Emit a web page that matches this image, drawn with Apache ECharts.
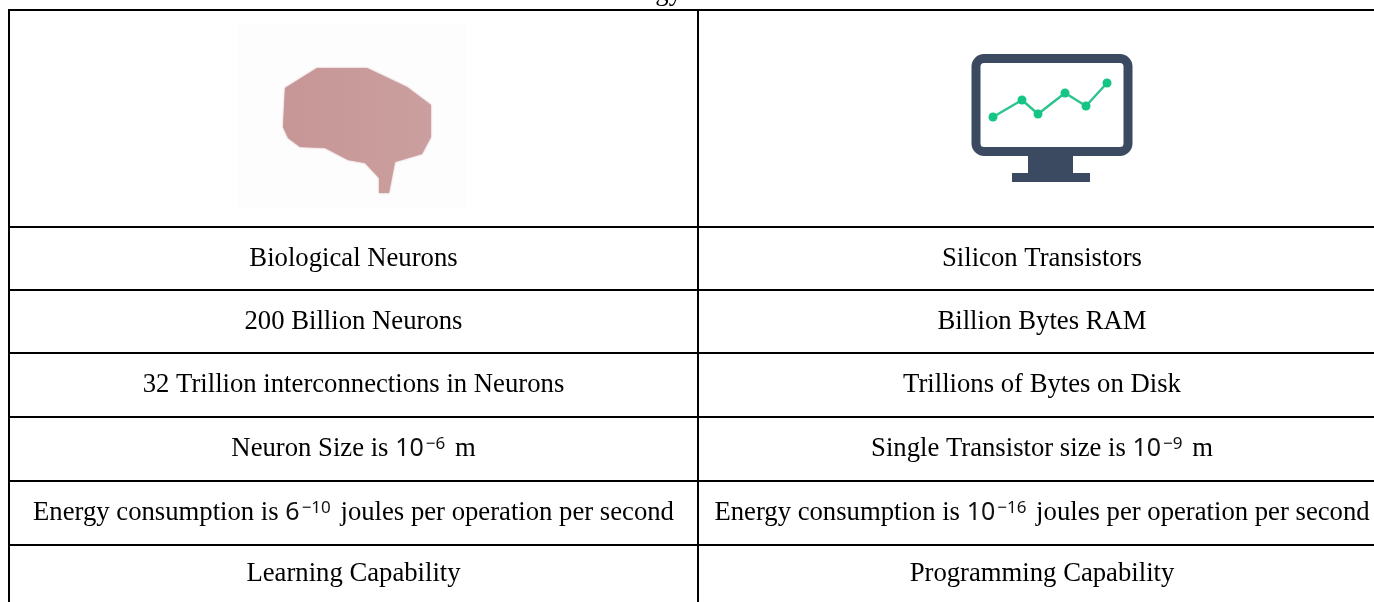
<!DOCTYPE html>
<html>
<head>
<meta charset="utf-8">
<style>
  html, body { margin: 0; padding: 0; background: #fff; }
  #main { width: 1374px; height: 602px; }
</style>
<script src="https://cdn.jsdelivr.net/npm/echarts@6/dist/echarts.min.js"></script>
</head>
<body>
<div id="main"></div>
<script>
// table content
const leftColumn = [
  "Biological Neurons",
  "200 Billion Neurons",
  "32 Trillion interconnections in Neurons",
  "Neuron Size is {m|10}{s|−6} {t|m}",
  "Energy consumption is {m|6}{s|−10} {t|joules per operation per second}",
  "Learning Capability"
];
const rightColumn = [
  "Silicon Transistors",
  "Billion Bytes RAM",
  "Trillions of Bytes on Disk",
  "Single Transistor size is {m|10}{s|−9} {t|m}",
  "Energy consumption is {m|10}{s|−16} {t|joules per operation per second}",
  "Programming Capability"
];
const captionTail = "Technology";

// little trend line on the monitor icon
const trendX = [0, 29, 45, 72, 93, 114];
const trendY = [0, 17, 3, 24, 11, 34];

// table layout, page pixels (the right column runs past the page edge)
const rowEdges = [10, 227, 290, 353, 417, 481, 545, 602];
const colEdges = [9, 698, 1386];
const W = 1374, H = 602;

const serif = '"Liberation Serif", "Times New Roman", serif';
const cells = [];
leftColumn.forEach((t, i) => cells.push([0, i, t]));
rightColumn.forEach((t, i) => cells.push([1, i, t]));

const chart = echarts.init(document.getElementById("main"), null, { renderer: "canvas" });

chart.setOption({
  animation: false,
  backgroundColor: "#fff",
  grid: [
    { left: 0, top: 0, width: W, height: H, show: false },
    { left: 993, top: 83, width: 114, height: 34, show: false }
  ],
  xAxis: [
    { type: "value", gridIndex: 0, min: 0, max: W, show: false },
    { type: "value", gridIndex: 1, min: 0, max: 114, show: false }
  ],
  yAxis: [
    { type: "value", gridIndex: 0, min: 0, max: H, inverse: true, show: false },
    { type: "value", gridIndex: 1, min: 0, max: 34, show: false }
  ],
  graphic: [
    // pale square behind the brain picture
    { type: "rect", z: 0, shape: { x: 237, y: 24, width: 230, height: 184 }, style: { fill: "#fdfdfd" } },
    // brain
    {
      type: "polygon", z: 1,
      shape: { points: [
        [285, 88], [317, 68], [367, 68], [407, 87], [431, 105], [431, 137],
        [422, 154], [395, 162], [389, 193], [379, 193], [379, 178], [365, 163],
        [348, 160], [325, 148], [300, 147], [288, 138], [283, 127]
      ] },
      style: {
        fill: { type: "linear", x: 0, y: 0, x2: 1, y2: 0, colorStops: [
          { offset: 0, color: "#c79696" }, { offset: 1, color: "#cb9f9f" }
        ] },
        shadowBlur: 2, shadowColor: "#c99a9a"
      }
    },
    // monitor
    { type: "rect", z: 1, shape: { x: 976, y: 58.5, width: 152, height: 93, r: 8 },
      style: { fill: "#fff", stroke: "#3b4a61", lineWidth: 9 } },
    { type: "rect", z: 1, shape: { x: 1028, y: 154, width: 45, height: 20 }, style: { fill: "#3b4a61" } },
    { type: "rect", z: 1, shape: { x: 1012, y: 173, width: 78, height: 9 }, style: { fill: "#3b4a61" } }
  ],
  series: [
    {
      // text of the table
      type: "custom",
      xAxisIndex: 0, yAxisIndex: 0,
      coordinateSystem: "cartesian2d",
      clip: false,
      silent: true,
      z: 3,
      data: cells,
      encode: { x: 0, y: 1 },
      renderItem(params, api) {
        const col = api.value(0), row = api.value(1);
        const x0 = colEdges[col], x1 = colEdges[col + 1];
        const y0 = rowEdges[row + 1], y1 = rowEdges[row + 2];
        return {
          type: "text",
          x: (x0 + x1) / 2,
          y: (y0 + y1) / 2,
          style: {
            text: cells[params.dataIndex][2],
            align: "center",
            verticalAlign: "middle",
            font: "26.7px " + serif,
            fill: "#000",
            rich: {
              t: { font: "26.7px " + serif, fill: "#000" },
              m: { font: "25px 'Noto Sans'", fill: "#111" },
              s: { font: "17px 'Noto Sans'", fill: "#111", verticalAlign: "top", padding: [0, 3, 2, 2] }
            }
          }
        };
      }
    },
    {
      // borders and the clipped caption above the table
      type: "custom",
      xAxisIndex: 0, yAxisIndex: 0,
      coordinateSystem: "cartesian2d",
      silent: true,
      z: 2,
      data: [[0, 0]],
      renderItem() {
        const lines = [];
        rowEdges.slice(0, -1).forEach(y => lines.push({
          type: "line", shape: { x1: colEdges[0] - 1, y1: y, x2: W, y2: y }, style: { stroke: "#000", lineWidth: 2 }
        }));
        colEdges.slice(0, -1).forEach(x => lines.push({
          type: "line", shape: { x1: x, y1: rowEdges[0], x2: x, y2: H }, style: { stroke: "#000", lineWidth: 2 }
        }));
        lines.push({
          type: "text", x: 682, y: 6,
          style: { text: captionTail, align: "right", verticalAlign: "bottom", font: "26.7px " + serif, fill: "#000" }
        });
        return { type: "group", children: lines };
      }
    },
    {
      type: "line",
      xAxisIndex: 1, yAxisIndex: 1,
      data: trendX.map((x, i) => [x, trendY[i]]),
      symbol: "circle",
      symbolSize: 9,
      clip: false,
      z: 4,
      lineStyle: { color: "#2fc48d", width: 2.5 },
      itemStyle: { color: "#15c585" }
    }
  ]
});
</script>
</body>
</html>
